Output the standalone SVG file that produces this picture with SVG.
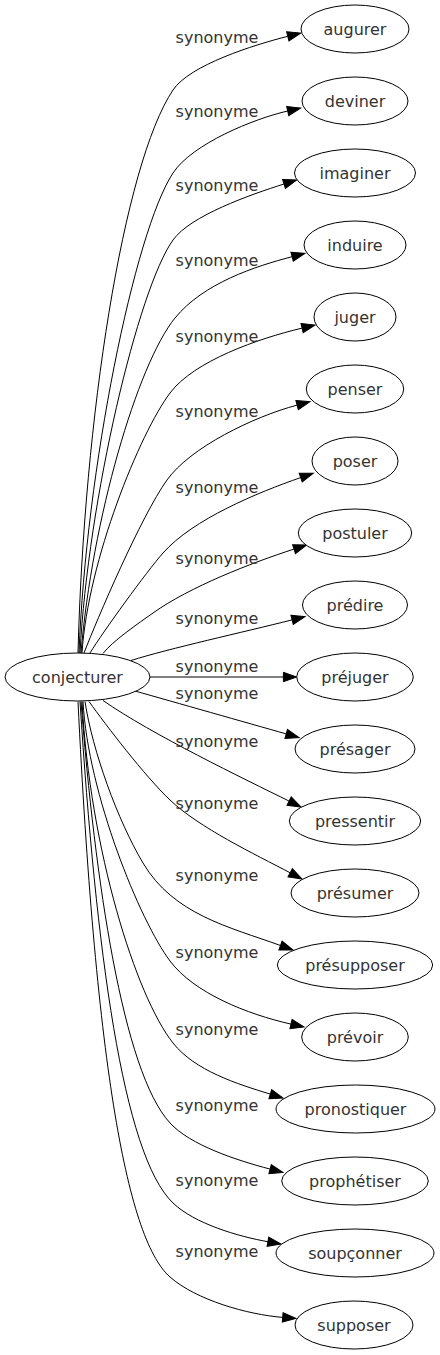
<svg xmlns="http://www.w3.org/2000/svg" width="440" height="1355" viewBox="0 0 440 1355">
<style>
.edges path{fill:none;stroke:#000;stroke-width:1;marker-end:url(#ah)}
.node ellipse{fill:#fff;stroke:#000;stroke-width:1}
text{font-family:"DejaVu Sans","Liberation Sans",sans-serif;font-size:16px;fill:#333;text-anchor:middle}
</style>
<defs>
<marker id="ah" markerUnits="userSpaceOnUse" viewBox="0 0 13.3 9.4" refX="0" refY="4.7" markerWidth="13.3" markerHeight="9.4" orient="auto" overflow="visible">
<path d="M0,0 L13.3,4.7 L0,9.4 Z" fill="#000" stroke="#000" stroke-width="1"/>
</marker>
</defs>
<rect width="440" height="1355" fill="#fff"/>
<g class="edges">
<path d="M78,653 C84,420 123,165 173,90 C189.7,65 253.9,44.9 287.8,36.3"/>
<path d="M79,653 C86,470 134.5,231.5 173,173 C192.3,143.8 253.6,118.8 287.7,111"/>
<path d="M80,653 C88,500 138.1,288.8 173,240 C190.4,215.6 250.6,194.6 284,184"/>
<path d="M81,653 C92,520 137.2,364.6 175,318 C203.4,283.1 255.3,266.3 292.1,256.7"/>
<path d="M82,653 C88,560 140,433 170,393 C194,361 258.3,338.5 302.1,328.1"/>
<path d="M84,653 C96.6,620.4 140.9,516.4 167,480 C190.2,447.4 253.6,416.7 297.1,405.1"/>
<path d="M90,653 C103.1,631.7 146.5,571.75 163,553 C192.7,519.25 258.2,492.3 300.7,477.6"/>
<path d="M103,653.5 C112,641.5 138.3,623.4 153,613 C189.6,586.9 251.2,562.9 294,549.1"/>
<path d="M131,660.5 C169,648.5 243.6,632.1 292.1,619.9"/>
<path d="M150,677 L283.4,677"/>
<path d="M135,691 C173.5,701.9 247.7,723 286.2,733.9"/>
<path d="M103,700.5 C152.2,734.7 244.3,778.9 289.1,801.1"/>
<path d="M89,701.5 C106.5,725.9 144.7,775.9 170,800 C199,827.6 254.8,854.2 290.2,872.8"/>
<path d="M85,701.5 C92.5,751 117.5,820 143,863 C173.6,914.6 228.8,926.8 280.5,945.5"/>
<path d="M83,701.5 C88,794 140,921 170,961 C194,993 247.1,1014.2 291,1024.1"/>
<path d="M82,701.5 C90,850 135.8,995.9 173,1043 C194.7,1070.5 236.8,1083.9 270.3,1094.1"/>
<path d="M81,701.5 C95,880 122.7,1071.4 170,1123 C190.3,1145.1 236.3,1160.2 270.1,1169.1"/>
<path d="M80,701.5 C96,950 122.6,1154.7 173,1203 C194.6,1223.7 238.4,1236.5 267.9,1241.7"/>
<path d="M78,701.5 C95,1050 125,1237.4 170,1277 C196.25,1300.1 247.8,1314.6 282.7,1317.4"/>
</g>
<g class="labels">
<text x="217" y="43">synonyme</text>
<text x="217" y="116.7">synonyme</text>
<text x="217" y="191">synonyme</text>
<text x="217" y="265.7">synonyme</text>
<text x="217" y="341.7">synonyme</text>
<text x="217" y="416.7">synonyme</text>
<text x="217" y="492.7">synonyme</text>
<text x="217" y="564.3">synonyme</text>
<text x="217" y="624">synonyme</text>
<text x="217" y="671.7">synonyme</text>
<text x="217" y="699.3">synonyme</text>
<text x="217" y="746.7">synonyme</text>
<text x="217" y="809">synonyme</text>
<text x="217" y="880.7">synonyme</text>
<text x="217" y="958.3">synonyme</text>
<text x="217" y="1035">synonyme</text>
<text x="217" y="1111">synonyme</text>
<text x="217" y="1185.7">synonyme</text>
<text x="217" y="1257.3">synonyme</text>
</g>
<g id="conjecturer" class="node"><ellipse cx="77.5" cy="677" rx="72.5" ry="24"/><text x="77.5" y="683">conjecturer</text></g>
<g id="augurer" class="node"><ellipse cx="355" cy="29" rx="54" ry="24"/><text x="355" y="35">augurer</text></g>
<g id="deviner" class="node"><ellipse cx="355" cy="101" rx="53" ry="24"/><text x="355" y="107">deviner</text></g>
<g id="imaginer" class="node"><ellipse cx="355" cy="173" rx="60.5" ry="24"/><text x="355" y="179">imaginer</text></g>
<g id="induire" class="node"><ellipse cx="355" cy="245" rx="51" ry="24"/><text x="355" y="251">induire</text></g>
<g id="juger" class="node"><ellipse cx="355" cy="317" rx="41" ry="24"/><text x="355" y="323">juger</text></g>
<g id="penser" class="node"><ellipse cx="355" cy="389" rx="48.7" ry="24"/><text x="355" y="395">penser</text></g>
<g id="poser" class="node"><ellipse cx="355" cy="461" rx="43" ry="24"/><text x="355" y="467">poser</text></g>
<g id="postuler" class="node"><ellipse cx="355" cy="533" rx="56.7" ry="24"/><text x="355" y="539">postuler</text></g>
<g id="predire" class="node"><ellipse cx="355" cy="605" rx="52.5" ry="24"/><text x="355" y="611">prédire</text></g>
<g id="prejuger" class="node"><ellipse cx="355" cy="677" rx="58.3" ry="24"/><text x="355" y="683">préjuger</text></g>
<g id="presager" class="node"><ellipse cx="355" cy="749" rx="60" ry="24"/><text x="355" y="755">présager</text></g>
<g id="pressentir" class="node"><ellipse cx="355" cy="821" rx="65.7" ry="24"/><text x="355" y="827">pressentir</text></g>
<g id="presumer" class="node"><ellipse cx="355" cy="893" rx="64" ry="24"/><text x="355" y="899">présumer</text></g>
<g id="presupposer" class="node"><ellipse cx="355" cy="965" rx="77.7" ry="24"/><text x="355" y="971">présupposer</text></g>
<g id="prevoir" class="node"><ellipse cx="355" cy="1037" rx="53.3" ry="24"/><text x="355" y="1043">prévoir</text></g>
<g id="pronostiquer" class="node"><ellipse cx="355.5" cy="1109" rx="79.5" ry="24"/><text x="355.5" y="1115">pronostiquer</text></g>
<g id="prophetiser" class="node"><ellipse cx="355" cy="1181" rx="73.3" ry="24"/><text x="355" y="1187">prophétiser</text></g>
<g id="soupconner" class="node"><ellipse cx="355" cy="1253" rx="79" ry="24"/><text x="355" y="1259">soupçonner</text></g>
<g id="supposer" class="node"><ellipse cx="354" cy="1325" rx="59" ry="24"/><text x="354" y="1331">supposer</text></g>
</svg>
